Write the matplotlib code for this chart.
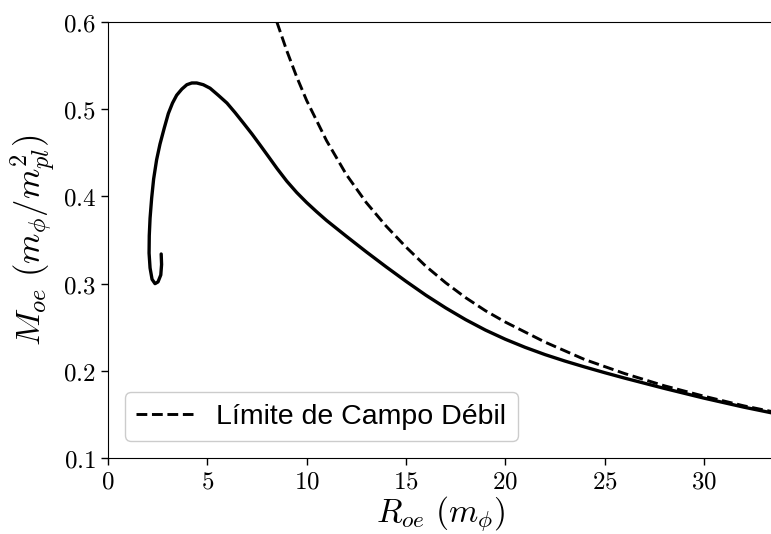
import matplotlib
matplotlib.use("Agg")
import matplotlib.pyplot as plt

plt.rcParams['mathtext.fontset'] = 'cm'

# Curva masa-radio (solución completa), desde el centro de la espiral hacia radios grandes
R_oe = [2.68, 2.70, 2.66, 2.52, 2.37, 2.22, 2.12, 2.07, 2.08, 2.12, 2.20, 2.30,
        2.45, 2.62, 2.83, 3.04, 3.25, 3.46, 3.72, 3.97, 4.22, 4.47, 4.80, 5.14,
        5.55, 5.99, 6.40, 6.82, 7.25, 7.67, 8.10, 8.51, 9.0, 9.5, 10.0, 10.5,
        11.0, 12.0, 13.0, 14.0, 15.0, 16.0, 17.0, 18.0, 19.0, 20.0, 21.0, 22.0,
        23.0, 24.0, 25.0, 26.0, 28.0, 30.0, 32.0, 33.5]
M_oe = [0.334, 0.322, 0.310, 0.302, 0.300, 0.305, 0.318, 0.335, 0.355, 0.375,
        0.398, 0.420, 0.442, 0.460, 0.478, 0.495, 0.507, 0.516, 0.523, 0.528,
        0.530, 0.530, 0.528, 0.524, 0.516, 0.507, 0.496, 0.484, 0.4715, 0.4585,
        0.445, 0.432, 0.4175, 0.4045, 0.393, 0.3825, 0.3725, 0.3543, 0.3365,
        0.3193, 0.3027, 0.2868, 0.2722, 0.2588, 0.2468, 0.2363, 0.2270, 0.2187,
        0.2113, 0.2045, 0.1980, 0.1918, 0.1800, 0.1688, 0.1585, 0.1515]

# Límite de campo débil
R_cd = [8.5, 9.0, 9.5, 10.0, 11.0, 12.0, 13.0, 14.0, 15.0, 16.0, 17.0, 18.0,
        19.0, 20.0, 22.0, 24.0, 26.0, 28.0, 30.0, 32.0, 33.5]
M_cd = [0.600, 0.567, 0.537, 0.510, 0.464, 0.425, 0.393, 0.366, 0.342, 0.320,
        0.301, 0.284, 0.269, 0.256, 0.233, 0.213, 0.197, 0.183, 0.171, 0.160,
        0.153]

xticks = [0, 5, 10, 15, 20, 25, 30]
yticks = [0.1, 0.2, 0.3, 0.4, 0.5, 0.6]

fig = plt.figure(figsize=(7.71, 5.34), dpi=100)
ax = fig.add_axes([0.140, 0.142, 0.862, 0.817])

ax.plot(R_oe, M_oe, color='black', lw=2.4, solid_capstyle='round',
        solid_joinstyle='round')
ax.plot(R_cd, M_cd, color='black', lw=2.1, ls='--', label='Límite de Campo Débil')

ax.set_xlim(0, 33.45)
ax.set_ylim(0.1, 0.6)
ax.set_xticks(xticks)
ax.set_xticklabels([f'${t}$' for t in xticks])
ax.set_yticks(yticks)
ax.set_yticklabels([f'${t}$' for t in yticks])
ax.tick_params(labelsize=18, length=5, width=1)
ax.spines['right'].set_visible(False)

ax.set_xlabel(r'$R_{oe}\ (m_\phi)$', fontsize=24, labelpad=0)
ax.set_ylabel(r'$M_{oe}\ (m_\phi/m_{pl}^2)$', fontsize=25, labelpad=4)

leg = ax.legend(loc='lower left', handlelength=2.0,
                prop={'family': 'Liberation Sans', 'size': 20.5},
                borderaxespad=0.6, fancybox=True, framealpha=1)
leg.get_frame().set_edgecolor('#cccccc')

fig.savefig('out.png', dpi=100)
